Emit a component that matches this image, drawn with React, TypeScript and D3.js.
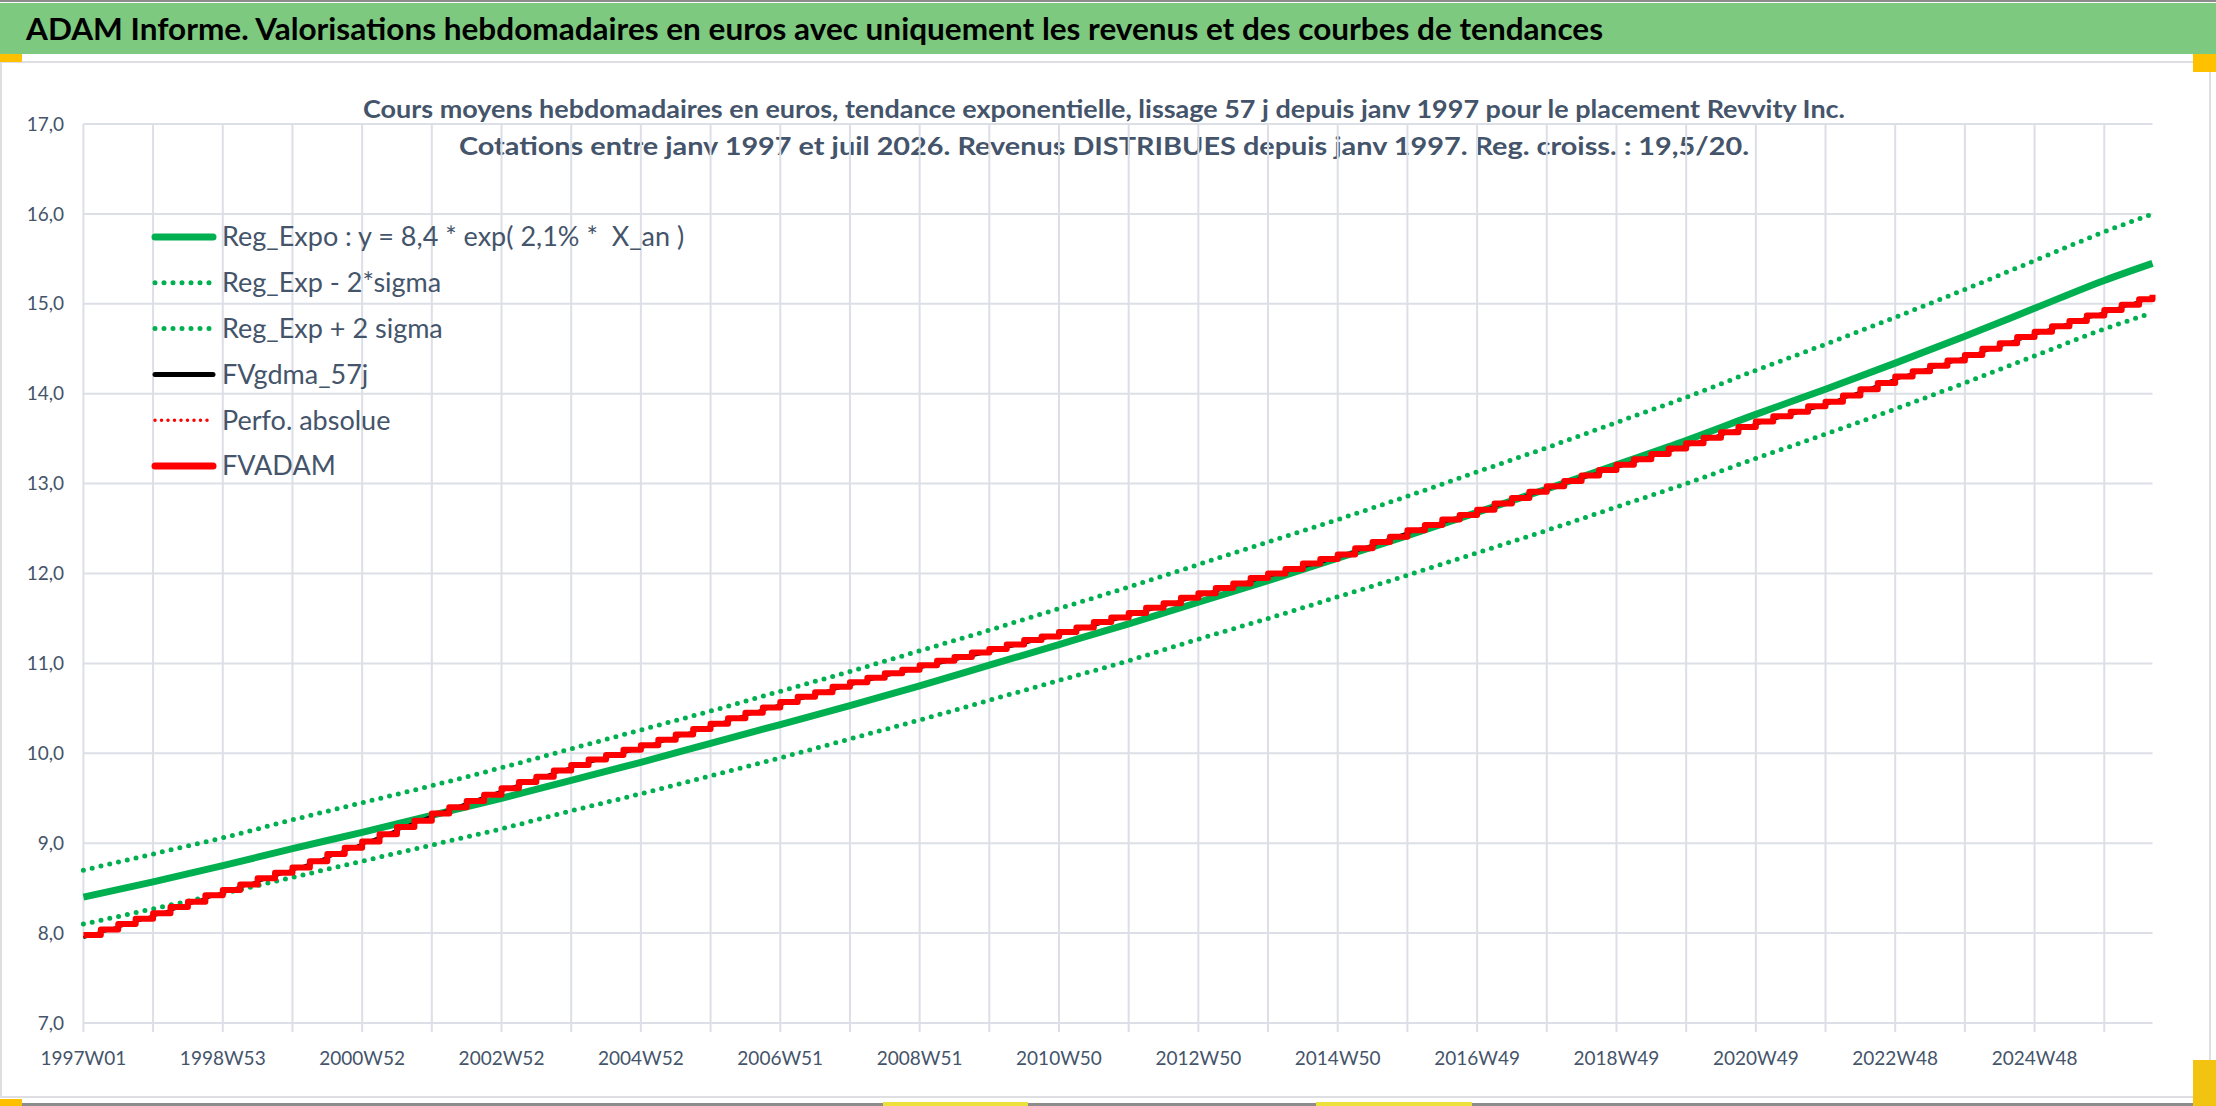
import React, { FC, useMemo } from "react";
import * as d3 from "d3";

const WIDTH = 2216;
const HEIGHT = 1106;

// weekly category axis: 1997W01 .. juil 2026
const LAST_WEEK = 1544;
const WEEKS_PER_YEAR = 52;
const WEEKS_PER_QUARTER = 13;
const LABEL_EVERY = 104;

const xTickLabels = [
  "1997W01",
  "1998W53",
  "2000W52",
  "2002W52",
  "2004W52",
  "2006W51",
  "2008W51",
  "2010W50",
  "2012W50",
  "2014W50",
  "2016W49",
  "2018W49",
  "2020W49",
  "2022W48",
  "2024W48",
];

const yTicks = [7, 8, 9, 10, 11, 12, 13, 14, 15, 16, 17];

// yearly samples (one per gridline, last one at the end of the axis)
const regExpo = [
  8.4, 8.57, 8.75, 8.94, 9.12, 9.31, 9.5, 9.7, 9.9, 10.11, 10.32, 10.53, 10.75,
  10.98, 11.21, 11.44, 11.68, 11.92, 12.17, 12.42, 12.68, 12.94, 13.21, 13.48,
  13.77, 14.05, 14.34, 14.64, 14.95, 15.26, 15.45,
];

const regMinus2Sigma = [
  8.1, 8.27, 8.44, 8.62, 8.8, 8.98, 9.16, 9.36, 9.55, 9.75, 9.95, 10.16, 10.37,
  10.59, 10.81, 11.03, 11.27, 11.5, 11.74, 11.98, 12.23, 12.48, 12.74, 13.0,
  13.28, 13.55, 13.83, 14.12, 14.42, 14.72, 14.9,
];

const regPlus2Sigma = [
  8.7, 8.88, 9.06, 9.26, 9.45, 9.64, 9.84, 10.05, 10.26, 10.47, 10.69, 10.91,
  11.14, 11.37, 11.61, 11.85, 12.1, 12.35, 12.6, 12.86, 13.13, 13.4, 13.68,
  13.96, 14.26, 14.55, 14.85, 15.16, 15.48, 15.8, 16.0,
];

const fvGdma57 = [
  7.95, 8.19, 8.45, 8.7, 8.99, 9.3, 9.58, 9.84, 10.06, 10.3, 10.54, 10.76,
  10.95, 11.13, 11.32, 11.53, 11.75, 11.97, 12.18, 12.45, 12.68, 12.94, 13.18,
  13.42, 13.66, 13.88, 14.16, 14.4, 14.66, 14.9, 15.07,
];

// quarterly samples (distributions make the steps)
const fvAdam = [
  7.98, 8.04, 8.1, 8.16, 8.22, 8.29, 8.35, 8.42, 8.48, 8.54, 8.61, 8.67, 8.73,
  8.8, 8.88, 8.95, 9.02, 9.1, 9.18, 9.25, 9.33, 9.4, 9.47, 9.54, 9.61, 9.68,
  9.74, 9.81, 9.87, 9.93, 9.98, 10.04, 10.09, 10.15, 10.21, 10.27, 10.33, 10.39,
  10.45, 10.51, 10.57, 10.63, 10.68, 10.74, 10.79, 10.84, 10.89, 10.93, 10.98,
  11.03, 11.07, 11.12, 11.16, 11.21, 11.26, 11.3, 11.35, 11.4, 11.46, 11.51,
  11.56, 11.62, 11.67, 11.73, 11.78, 11.84, 11.89, 11.95, 12.0, 12.05, 12.11,
  12.16, 12.21, 12.28, 12.35, 12.41, 12.48, 12.54, 12.6, 12.65, 12.71, 12.78,
  12.84, 12.91, 12.97, 13.03, 13.09, 13.15, 13.21, 13.27, 13.33, 13.39, 13.45,
  13.51, 13.57, 13.63, 13.69, 13.75, 13.8, 13.86, 13.91, 13.98, 14.05, 14.12,
  14.19, 14.25, 14.31, 14.37, 14.43, 14.5, 14.56, 14.63, 14.69, 14.75, 14.81,
  14.87, 14.93, 14.99, 15.05, 15.1,
];

const legendLabels = [
  "Reg_Expo : y = 8,4 * exp( 2,1% *  X_an )",
  "Reg_Exp - 2*sigma",
  "Reg_Exp + 2 sigma",
  "FVgdma_57j",
  "Perfo. absolue",
  "FVADAM",
];

const TITLE =
  "ADAM Informe. Valorisations hebdomadaires en euros avec uniquement les revenus et des courbes de tendances";
const SUBTITLE = [
  "Cours moyens hebdomadaires en euros, tendance exponentielle, lissage 57 j depuis janv 1997 pour le placement Revvity Inc.",
  "Cotations entre janv 1997 et juil 2026. Revenus DISTRIBUES depuis janv 1997. Reg. croiss. : 19,5/20.",
];

const FONT = "Lato, 'Open Sans', 'DejaVu Sans', sans-serif";
const SLATE = "#44546A";
const GRID = "#DCDFE6";
const GREEN = "#00B050";
const RED = "#FF0000";

const PLOT = { left: 83.4, right: 2152.5, top: 124, bottom: 1023 };

type Pt = [number, number];

const withIndex = (values: number[], step: number): Pt[] =>
  values.map((v, i) => [i === values.length - 1 ? LAST_WEEK : i * step, v]);

const legendStyles = [
  { stroke: GREEN, width: 7, dash: undefined },
  { stroke: GREEN, width: 5, dash: "0 9" },
  { stroke: GREEN, width: 5, dash: "0 9" },
  { stroke: "#000", width: 5, dash: undefined },
  { stroke: RED, width: 3.5, dash: "0 6.5" },
  { stroke: RED, width: 7, dash: undefined },
];

const Chart: FC = () => {
  const x = useMemo(
    () => d3.scaleLinear().domain([0, LAST_WEEK]).range([PLOT.left, PLOT.right]),
    []
  );
  const y = useMemo(
    () => d3.scaleLinear().domain([7, 17]).range([PLOT.bottom, PLOT.top]),
    []
  );

  const smooth = d3
    .line<Pt>()
    .x((d) => x(d[0]))
    .y((d) => y(d[1]))
    .curve(d3.curveMonotoneX);

  const stairs = d3
    .line<Pt>()
    .x((d) => x(d[0]))
    .y((d) => y(d[1]))
    .curve(d3.curveStepAfter);

  const gridWeeks = d3.range(0, LAST_WEEK, WEEKS_PER_YEAR);

  return (
    <svg
      width={WIDTH}
      height={HEIGHT}
      style={{ position: "absolute", left: 0, top: 0, display: "block" }}
      fontFamily={FONT}
    >
      <rect width={WIDTH} height={HEIGHT} fill="#fff" />

      {/* title band */}
      <rect x={0} y={0} width={WIDTH} height={2} fill="#8C8C8C" />
      <rect x={0} y={3} width={WIDTH} height={51} fill="#7DC97F" />
      <text x={26} y={40} fontSize={30} fontWeight="bold" fill="#000" textLength={1577} lengthAdjust="spacingAndGlyphs">
        {TITLE}
      </text>

      {/* chart area frame */}
      <rect x={1} y={62} width={2209} height={1035} fill="none" stroke="#DDDFE3" strokeWidth={2} />
      <rect x={0} y={1103} width={WIDTH} height={3} fill="#8C8C8C" />
      <rect x={0} y={54} width={22} height={8} fill="#FFC000" />
      <rect x={2193} y={54} width={23} height={18} fill="#FFC000" />
      <rect x={0} y={1099} width={22} height={7} fill="#FFC000" />
      <rect x={2193} y={1060} width={23} height={46} fill="#F2C311" />
      <rect x={883} y={1102} width={145} height={4} fill="#EEE03A" />
      <rect x={1316} y={1102} width={156} height={4} fill="#EEE03A" />

      {/* chart title */}
      {SUBTITLE.map((s, i) => (
        <text
          key={s}
          x={1104}
          y={118 + i * 37}
          textAnchor="middle"
          fontSize={25}
          fontWeight="bold"
          fill={SLATE}
          textLength={i === 0 ? 1482 : 1290}
          lengthAdjust="spacingAndGlyphs"
        >
          {s}
        </text>
      ))}

      {/* grid */}
      {yTicks.map((t) => (
        <line key={t} x1={PLOT.left} x2={PLOT.right} y1={y(t)} y2={y(t)} stroke={GRID} strokeWidth={2} />
      ))}
      {gridWeeks.map((w) => (
        <line key={w} x1={x(w)} x2={x(w)} y1={PLOT.top} y2={PLOT.bottom + 9} stroke={GRID} strokeWidth={2} />
      ))}

      {/* y axis labels */}
      {yTicks.map((t) => (
        <text key={t} x={64} y={y(t)} dy="0.35em" textAnchor="end" fontSize={19} fill={SLATE}>
          {d3.format(".1f")(t).replace(".", ",")}
        </text>
      ))}

      {/* x axis labels */}
      {xTickLabels.map((l, i) => (
        <text key={l} x={x(i * LABEL_EVERY)} y={1058} dy="0.35em" textAnchor="middle" fontSize={19} fill={SLATE}>
          {l}
        </text>
      ))}

      {/* series */}
      <path d={smooth(withIndex(regPlus2Sigma, WEEKS_PER_YEAR)) ?? ""} fill="none" stroke={GREEN} strokeWidth={5} strokeDasharray="0 9" strokeLinecap="round" />
      <path d={smooth(withIndex(regMinus2Sigma, WEEKS_PER_YEAR)) ?? ""} fill="none" stroke={GREEN} strokeWidth={5} strokeDasharray="0 9" strokeLinecap="round" />
      <path d={smooth(withIndex(regExpo, WEEKS_PER_YEAR)) ?? ""} fill="none" stroke={GREEN} strokeWidth={7} />
      <path d={smooth(withIndex(fvGdma57, WEEKS_PER_YEAR)) ?? ""} fill="none" stroke="#000" strokeWidth={3} />
      <path d={stairs(withIndex(fvAdam, WEEKS_PER_QUARTER)) ?? ""} fill="none" stroke={RED} strokeWidth={6} strokeLinejoin="round" />

      {/* legend */}
      {legendLabels.map((l, i) => {
        const cy = 237 + i * 45.8;
        const s = legendStyles[i];
        return (
          <g key={l}>
            <line
              x1={155}
              x2={213}
              y1={cy}
              y2={cy}
              stroke={s.stroke}
              strokeWidth={s.width}
              strokeDasharray={s.dash}
              strokeLinecap="round"
            />
            <text x={222} y={cy} dy="0.35em" fontSize={27} fill={SLATE} style={{ whiteSpace: "pre" }}>
              {l}
            </text>
          </g>
        );
      })}
    </svg>
  );
};

export default function App() {
  return <Chart />;
}
